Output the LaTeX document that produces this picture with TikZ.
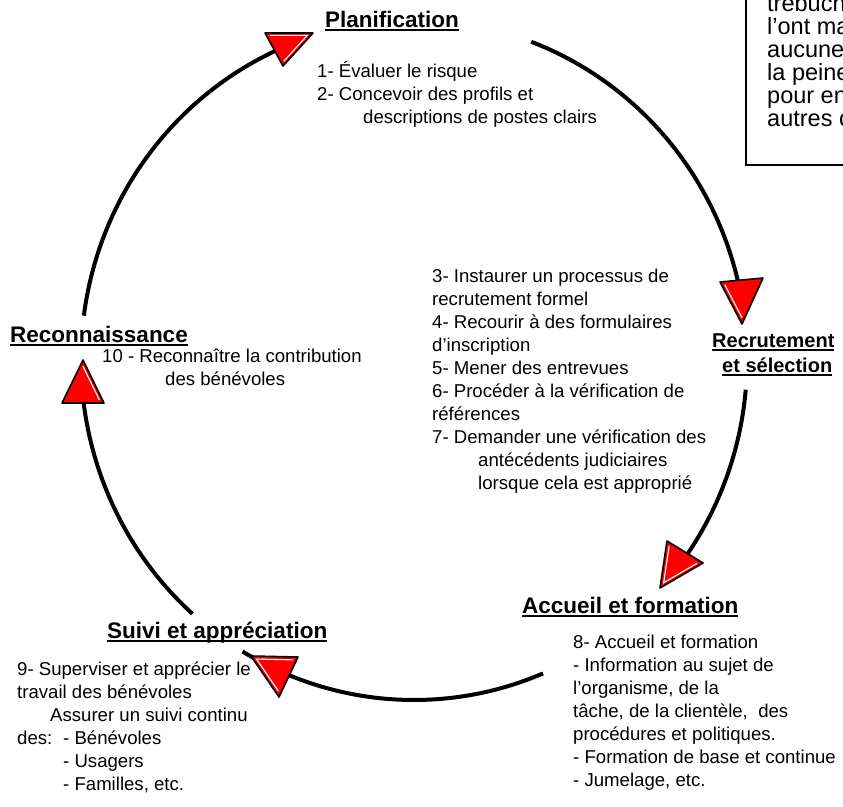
\documentclass[tikz,border=0pt]{standalone}
\usepackage{fontspec}
\setmainfont{Liberation Sans}
\usetikzlibrary{calc}
\newcommand\ulbox[1]{\setbox0\hbox{#1}\rlap{\rule[-3.5pt]{\wd0}{1.6pt}}\box0}
\tikzset{
  body/.style={anchor=base west, inner sep=0pt, font=\fontsize{18.6}{23}\selectfont},
  ttl/.style={anchor=base west, inner sep=0pt, font=\fontsize{22.5}{27}\selectfont\bfseries},
  ttlsmall/.style={anchor=base west, inner sep=0pt, font=\fontsize{20}{25}\selectfont\bfseries},
  boxtext/.style={anchor=base west, inner sep=0pt, font=\fontsize{23.5}{23}\selectfont},
  cyc/.style={line width=4pt, black},
  tri/.style={fill=red, draw=black, line width=1.6pt, line join=round},
  hl/.style={white, line width=1.1pt},
}
\begin{document}
\begin{tikzpicture}[x=1pt,y=-1pt]
\path[use as bounding box, clip] (0,0) rectangle (843,806);
\fill[white] (0,0) rectangle (843,806);

% text box (cut by the picture edge)
\node[draw, line width=1.6pt, anchor=south west, minimum width=140pt, minimum height=200pt, inner sep=0pt] (box) at (745,166) {};
\node[boxtext] (boxt) at (767,11) {\vtop{\hbox{trébuch}\hbox{l’ont ma}\hbox{aucune}\hbox{la peine}\hbox{pour en}\hbox{autres c}}};

% cycle arcs
\coordinate (C) at (414,360);
\coordinate (a1s) at ($(C)+({333*cos(-172.5)},{340*sin(-172.5)})$);
\coordinate (a2s) at ($(C)+({333*cos(-69.4)},{340*sin(-69.4)})$);
\coordinate (a3s) at ($(C)+({333*cos(5)},{340*sin(5)})$);
\coordinate (a4s) at ($(C)+({333*cos(67.2)},{340*sin(67.2)})$);
\coordinate (a5s) at ($(C)+({333*cos(131.7)},{340*sin(131.7)})$);
\draw[cyc] (a1s) arc[start angle=-172.5, end angle=-113, x radius=333, y radius=340] coordinate (a1e);
\draw[cyc] (a2s) arc[start angle=-69.4, end angle=-12, x radius=333, y radius=340] coordinate (a2e);
\draw[cyc] (a3s) arc[start angle=5, end angle=36, x radius=333, y radius=340] coordinate (a3e);
\draw[cyc] (a4s) arc[start angle=67.2, end angle=121, x radius=333, y radius=340] coordinate (a4e);
\draw[cyc] (a5s) arc[start angle=131.7, end angle=174, x radius=333, y radius=340] coordinate (a5e);

% arrowhead triangles
\coordinate (t1a) at (265,33);  \coordinate (t1b) at (313,33);  \coordinate (t1c) at (283,66);  \coordinate (t1g) at (287,44);
\coordinate (t2a) at (720,282); \coordinate (t2b) at (763,278); \coordinate (t2c) at (742,324); \coordinate (t2g) at (741.7,294.7);
\coordinate (t3a) at (667,541); \coordinate (t3b) at (703,563); \coordinate (t3c) at (660,588); \coordinate (t3g) at (676.7,564);
\coordinate (t4a) at (251,656); \coordinate (t4b) at (298,657); \coordinate (t4c) at (279,697); \coordinate (t4g) at (276,670);
\coordinate (t5a) at (83,360);  \coordinate (t5b) at (104,403); \coordinate (t5c) at (62,403);  \coordinate (t5g) at (83,388.7);
\filldraw[tri] (t1a) -- (t1b) -- (t1c) -- cycle;
\filldraw[tri] (t2a) -- (t2b) -- (t2c) -- cycle;
\filldraw[tri] (t3a) -- (t3b) -- (t3c) -- cycle;
\filldraw[tri] (t4a) -- (t4b) -- (t4c) -- cycle;
\filldraw[tri] (t5a) -- (t5b) -- (t5c) -- cycle;
\draw[hl] ($(t1a)!0.22!(t1g)$) -- ($(t1b)!0.22!(t1g)$) -- ($(t1c)!0.22!(t1g)$);
\draw[hl] ($(t2a)!0.22!(t2g)$) -- ($(t2c)!0.22!(t2g)$);
\draw[hl] ($(t3a)!0.22!(t3g)$) -- ($(t3c)!0.22!(t3g)$) -- ($(t3b)!0.22!(t3g)$);
\draw[hl] ($(t4c)!0.22!(t4g)$) -- ($(t4a)!0.22!(t4g)$) -- ($(t4b)!0.22!(t4g)$);
\draw[hl] ($(t5a)!0.22!(t5g)$) -- ($(t5b)!0.22!(t5g)$);

% titles
\node[ttl] (plan) at (325,27) {\ulbox{Planification}};
\node[ttl] (reco) at (10,342) {\ulbox{Reconnaissance}};
\node[ttlsmall] (recr1) at (712,347) {\ulbox{Recrutement}};
\node[ttlsmall] (recr2) at (722,372) {\ulbox{et sélection}};
\node[ttl] (accu) at (522,613) {\ulbox{Accueil et formation}};
\node[ttl] (suiv) at (107,638) {\ulbox{Suivi et appréciation}};

% body texts
\node[body] (plant) at (317,77) {\vtop{\hbox{1- Évaluer le risque}\hbox{2- Concevoir des profils et}\hbox{\kern46pt descriptions de postes clairs}}};
\node[body] (recrt) at (432,282) {\vtop{\hbox{3- Instaurer un processus de}\hbox{recrutement formel}\hbox{4- Recourir à des formulaires}\hbox{d’inscription}\hbox{5- Mener des entrevues}\hbox{6- Procéder à la vérification de}\hbox{références}\hbox{7- Demander une vérification des}\hbox{\kern46pt antécédents judiciaires}\hbox{\kern46pt lorsque cela est approprié}}};
\node[body] (recot) at (102,362) {\vtop{\hbox{10 - Reconnaître la contribution}\hbox{\kern63pt des bénévoles}}};
\node[body] (accut) at (573,648) {\vtop{\hbox{8- Accueil et formation}\hbox{- Information au sujet de}\hbox{l’organisme, de la}\hbox{tâche, de la clientèle,\ \ des}\hbox{procédures et politiques.}\hbox{- Formation de base et continue}\hbox{- Jumelage, etc.}}};
\node[body] (suivt) at (17,675) {\vtop{\hbox{9- Superviser et apprécier le}\hbox{travail des bénévoles}\hbox{\kern33pt Assurer un suivi continu}\hbox{\makebox[46pt][l]{des:}- Bénévoles}\hbox{\kern46pt - Usagers}\hbox{\kern46pt - Familles, etc.}}};
\end{tikzpicture}
\end{document}
